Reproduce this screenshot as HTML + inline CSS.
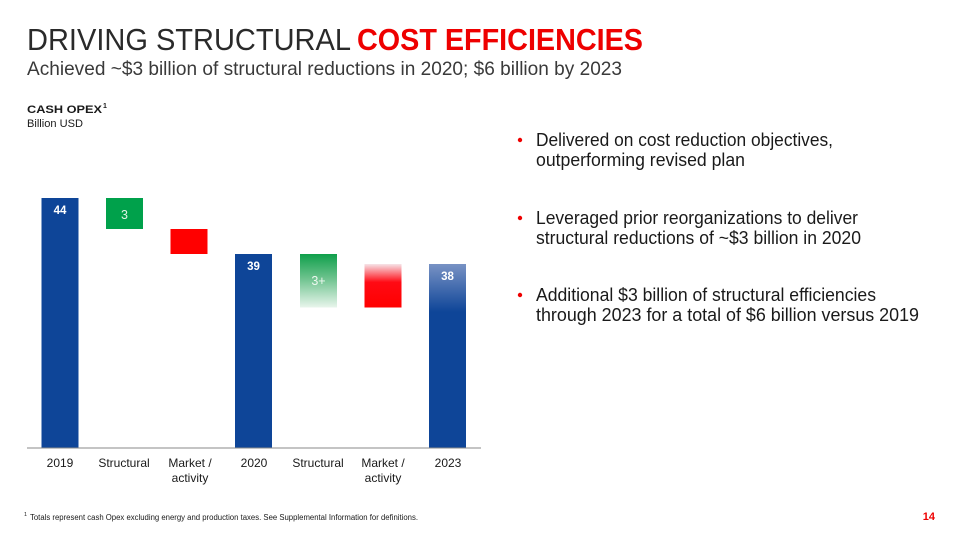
<!DOCTYPE html>
<html>
<head>
<meta charset="utf-8">
<style>
  html,body{margin:0;padding:0;background:#fff;}
  svg{display:block;}
  text{font-family:"Liberation Sans", sans-serif;}
</style>
</head>
<body>
<svg width="960" height="540" viewBox="0 0 960 540" xmlns="http://www.w3.org/2000/svg">
  <defs>
    <linearGradient id="gGreen" x1="0" y1="0" x2="0" y2="1">
      <stop offset="0" stop-color="#0f9f4b"/>
      <stop offset="0.45" stop-color="#6cc28d"/>
      <stop offset="1" stop-color="#e8f5ec"/>
    </linearGradient>
    <linearGradient id="gRed" x1="0" y1="0" x2="0" y2="1">
      <stop offset="0" stop-color="#f6e4e8"/>
      <stop offset="0.42" stop-color="#ff0a14"/>
      <stop offset="1" stop-color="#ff0000"/>
    </linearGradient>
    <linearGradient id="gBlue" x1="0" y1="0" x2="0" y2="1">
      <stop offset="0" stop-color="#7892c4"/>
      <stop offset="0.26" stop-color="#0e4598"/>
      <stop offset="1" stop-color="#0e4598"/>
    </linearGradient>
  </defs>

  <!-- Title -->
  <text x="27" y="50" font-size="31" fill="#2a2a2a" textLength="324" lengthAdjust="spacingAndGlyphs">DRIVING STRUCTURAL</text>
  <text x="357" y="50" font-size="31" font-weight="bold" fill="#ee0000" textLength="286" lengthAdjust="spacingAndGlyphs">COST EFFICIENCIES</text>
  <text x="27" y="75" font-size="19.5" fill="#3a3a3a" textLength="595" lengthAdjust="spacingAndGlyphs">Achieved ~$3 billion of structural reductions in 2020; $6 billion by 2023</text>

  <!-- Chart header -->
  <text x="27" y="113" font-size="11" font-weight="bold" fill="#1a1a1a" textLength="75" lengthAdjust="spacingAndGlyphs">CASH OPEX</text>
  <text x="103" y="108" font-size="7" font-weight="bold" fill="#1a1a1a">1</text>
  <text x="27" y="127" font-size="11" fill="#1a1a1a" textLength="56" lengthAdjust="spacingAndGlyphs">Billion USD</text>

  <!-- Bars -->
  <rect x="41.5" y="198" width="37" height="250" fill="#0e4598"/>
  <rect x="106" y="198" width="37" height="31" fill="#00a14b"/>
  <rect x="170.5" y="229" width="37" height="25" fill="#ff0000"/>
  <rect x="235" y="254" width="37" height="194" fill="#0e4598"/>
  <rect x="300" y="254" width="37" height="53.5" fill="url(#gGreen)"/>
  <rect x="364.5" y="264" width="37" height="43.5" fill="url(#gRed)"/>
  <rect x="429" y="264" width="37" height="184" fill="url(#gBlue)"/>

  <!-- Bar labels -->
  <text x="60" y="214" font-size="11.5" font-weight="bold" fill="#fff" text-anchor="middle">44</text>
  <text x="124.5" y="219" font-size="12.5" fill="#dff2e4" text-anchor="middle">3</text>
  <text x="253.5" y="270" font-size="11.5" font-weight="bold" fill="#fff" text-anchor="middle">39</text>
  <text x="318.5" y="285" font-size="12.5" fill="#eef8f0" text-anchor="middle">3+</text>
  <text x="447.5" y="280" font-size="11.5" font-weight="bold" fill="#fff" text-anchor="middle">38</text>

  <!-- Axis -->
  <line x1="27" y1="448" x2="481" y2="448" stroke="#8a8a8a" stroke-width="1"/>

  <!-- Category labels -->
  <g font-size="12" fill="#1a1a1a" text-anchor="middle">
    <text x="60" y="467">2019</text>
    <text x="124" y="467">Structural</text>
    <text x="190" y="467">Market /</text>
    <text x="190" y="482">activity</text>
    <text x="254" y="467">2020</text>
    <text x="318" y="467">Structural</text>
    <text x="383" y="467">Market /</text>
    <text x="383" y="482">activity</text>
    <text x="448" y="467">2023</text>
  </g>

  <!-- Bullets -->
  <g fill="#1a1a1a" font-size="18.5">
    <circle cx="520" cy="140" r="2.2" fill="#ee0000"/>
    <text x="536" y="146" textLength="297" lengthAdjust="spacingAndGlyphs">Delivered on cost reduction objectives,</text>
    <text x="536" y="166" textLength="209" lengthAdjust="spacingAndGlyphs">outperforming revised plan</text>

    <circle cx="520" cy="218" r="2.2" fill="#ee0000"/>
    <text x="536" y="224" textLength="322" lengthAdjust="spacingAndGlyphs">Leveraged prior reorganizations to deliver</text>
    <text x="536" y="244" textLength="325" lengthAdjust="spacingAndGlyphs">structural reductions of ~$3 billion in 2020</text>

    <circle cx="520" cy="295" r="2.2" fill="#ee0000"/>
    <text x="536" y="301" textLength="340" lengthAdjust="spacingAndGlyphs">Additional $3 billion of structural efficiencies</text>
    <text x="536" y="321" textLength="383" lengthAdjust="spacingAndGlyphs">through 2023 for a total of $6 billion versus 2019</text>
  </g>

  <!-- Footnote -->
  <text x="24" y="516" font-size="5.5" fill="#1a1a1a">1</text>
  <text x="30" y="520" font-size="8" fill="#1a1a1a" textLength="388" lengthAdjust="spacingAndGlyphs">Totals represent cash Opex excluding energy and production taxes. See Supplemental Information for definitions.</text>
  <text x="935" y="520" font-size="11" font-weight="bold" fill="#ee0000" text-anchor="end">14</text>
</svg>
</body>
</html>
